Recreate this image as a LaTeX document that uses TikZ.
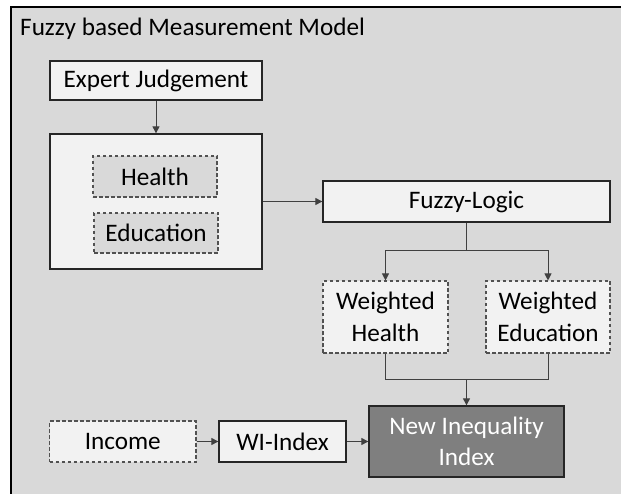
\documentclass[tikz,border=0pt]{standalone}
\usepackage{fontspec}
\setmainfont{Carlito}
\usetikzlibrary{arrows.meta}
\definecolor{bggray}{HTML}{D9D9D9}
\definecolor{boxfill}{HTML}{F2F2F2}
\definecolor{darkfill}{HTML}{7F7F7F}
\definecolor{edge}{HTML}{262626}
\definecolor{conn}{HTML}{404040}
\begin{document}
\begin{tikzpicture}[x=1pt,y=-1pt,
  every node/.style={font=\fontsize{25.2}{31.5}\selectfont, inner sep=0pt, align=center},
  solidbox/.style={draw=edge, line width=1.3pt, fill=boxfill},
  dashbox/.style={draw=edge!80, line width=1.1pt, dash pattern=on 3.5pt off 2.5pt, fill=boxfill},
  graydash/.style={dashbox, fill=bggray},
  darkbox/.style={draw=edge, line width=1.3pt, fill=darkfill, text=white},
  conline/.style={draw=conn, line width=1pt},
  arr/.style={conline, -{Triangle[length=7pt,width=7pt]}}
]
\useasboundingbox (0,0) rectangle (621,494);
\fill[white] (0,0) rectangle (621,494);
\draw[fill=bggray, draw=black, line width=1.4pt] (11,7) rectangle (660,540);
\node[anchor=base west] (title) at (20,36) {Fuzzy based Measurement Model};

\node[solidbox, minimum width=212, minimum height=39] (ej) at (156,80.5) {Expert Judgement};
\node[solidbox, minimum width=212, minimum height=135] (big) at (156,201.5) {};
\node[graydash, minimum width=124, minimum height=41] (health) at (155,176.5) {Health};
\node[graydash, minimum width=124, minimum height=40] (edu) at (156,233) {Education};
\node[solidbox, minimum width=287, minimum height=41] (fuzzy) at (466.5,201.5) {Fuzzy-Logic};
\node[dashbox, minimum width=125, minimum height=72] (wh) at (385.5,317) {Weighted\\Health};
\node[dashbox, minimum width=124, minimum height=72] (we) at (548,317) {Weighted\\Education};
\node[dashbox, minimum width=146.5, minimum height=41] (inc) at (122.75,441.5) {Income};
\node[solidbox, minimum width=127, minimum height=41] (wi) at (282.5,441.5) {WI-Index};
\node[darkbox, minimum width=195, minimum height=71] (ni) at (466.5,441.5) {New Inequality\\Index};

\coordinate (split) at (466.5,251);
\coordinate (join) at (466.5,379);

\draw[arr] (ej.south) -- (big.north);
\draw[arr] (big.east) -- (fuzzy.west);
\draw[conline] (fuzzy.south) -- (split);
\draw[arr] (split) -| (wh.north);
\draw[arr] (split) -| (we.north);
\draw[conline] (wh.south) |- (join);
\draw[conline] (we.south) |- (join);
\draw[arr] (join) -- (ni.north);
\draw[arr] (inc.east) -- (wi.west);
\draw[arr] (wi.east) -- (ni.west);
\end{tikzpicture}
\end{document}
